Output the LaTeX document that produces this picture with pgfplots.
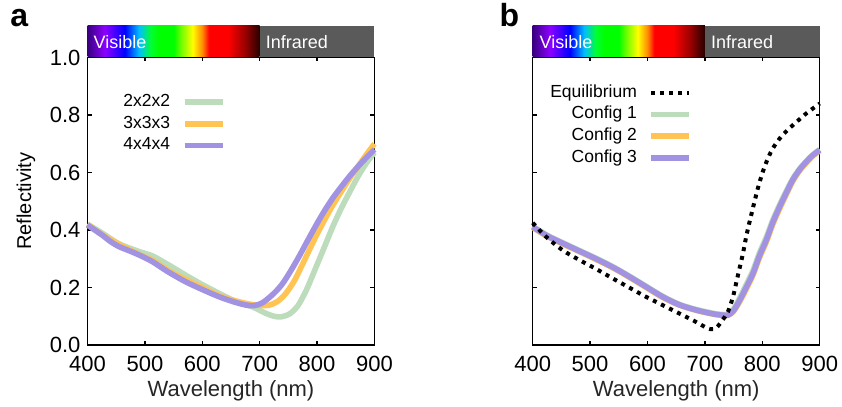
\documentclass[border=0pt]{standalone}
\usepackage{pgfplots}
\pgfplotsset{compat=1.18}
\usepackage{fontspec}
\setmainfont{Liberation Sans}
\definecolor{cg}{RGB}{188,220,188}
\definecolor{co}{RGB}{255,196,84}
\definecolor{cp}{RGB}{162,146,226}
\definecolor{infra}{RGB}{90,90,90}
\pgfdeclarehorizontalshading{visspec}{100bp}{rgb(0bp)=(0.22,0,0.5); rgb(25bp)=(0.22,0,0.5); rgb(30bp)=(0.55,0,1); rgb(35.8bp)=(0,0,1); rgb(40bp)=(0,0.75,1); rgb(43.3bp)=(0,1,0.2); rgb(45.8bp)=(0,1,0); rgb(50bp)=(0,1,0); rgb(52bp)=(0.4,1,0); rgb(55.5bp)=(1,1,0); rgb(58.3bp)=(1,0.55,0); rgb(60.3bp)=(1,0,0); rgb(65.8bp)=(1,0,0); rgb(70.8bp)=(0.6,0,0); rgb(75bp)=(0.15,0,0); rgb(100bp)=(0.15,0,0)}
\pgfplotsset{
  myaxis/.style={
    scale only axis, width=143.5pt, height=143.75pt,
    xmin=400, xmax=900, ymin=0, ymax=1,
    xtick={400,500,600,700,800,900}, ytick={0,0.2,0.4,0.6,0.8,1},
    tick align=inside, major tick length=2pt,
    axis line style={line width=0.75pt},
    every tick/.style={black, line width=0.75pt},
    tick label style={font=\fontsize{11}{13}\selectfont},
    /pgf/number format/assume math mode=true,
    yticklabel style={/pgf/number format/.cd, fixed, fixed zerofill, precision=1},
    xticklabel style={anchor=base, yshift=-13.35pt},
    xlabel style={at={(axis description cs:0.5,0)}, anchor=base, yshift=-26pt, font=\fontsize{11}{13}\selectfont, text=black!85},
    ylabel style={at={(axis description cs:-0.2143,0.5)}, anchor=center, font=\fontsize{10}{12}\selectfont},
    clip=false,
    legend cell align=right,
    legend plot pos=right,
    legend style={draw=none, fill=none, inner sep=0pt, row sep=2.65pt, column sep=5.85pt,
      font=\fontsize{8.75}{10}\selectfont,
      nodes={inner sep=0pt, text height=6.3pt, text depth=1.9pt}},
    legend image code/.code={\draw[#1] (0pt,0pt) -- (19pt,0pt);},
  }
}
\begin{document}
\begin{tikzpicture}
\path[use as bounding box] (0,0) rectangle (421pt,203.5pt);
\node[anchor=base west, inner sep=0pt, font=\fontsize{16}{18}\selectfont\bfseries] at (5pt,190.2pt) {a};
\node[anchor=base west, inner sep=0pt, font=\fontsize{16}{18}\selectfont\bfseries] at (249.6pt,190.2pt) {b};
\begin{axis}[myaxis, at={(43.75pt,31pt)}, anchor=south west,
  xlabel={Wavelength (nm)}, ylabel={Reflectivity},
  legend style={at={(axis description cs:0.1237,0.875)}, anchor=north west}]
\shade[shading=visspec] (axis cs:400,1.003) rectangle (axis cs:700,1.11);
\fill[infra] (axis cs:700,1.003) rectangle (axis cs:900,1.11);
\node[anchor=base west, inner sep=0pt, text=white, font=\fontsize{9}{10}\selectfont] at (axis cs:410,1.032) {Visible};
\node[anchor=base west, inner sep=0pt, text=white, font=\fontsize{9}{10}\selectfont] at (axis cs:710,1.032) {Infrared};
\addplot[cg, line width=2.8pt, smooth] coordinates {(400,0.42) (425,0.39) (455,0.352) (490,0.325) (513,0.31) (540,0.28) (571,0.243) (600,0.21) (629,0.18) (660,0.15) (687,0.133) (711,0.11) (725,0.1) (737,0.098) (752,0.108) (766,0.135) (776,0.17) (784,0.203) (798,0.27) (813,0.342) (827,0.41) (842,0.475) (857,0.533) (871,0.585) (885,0.63) (900,0.67)};
\addlegendentry{2x2x2}
\addplot[co, line width=2.8pt, smooth] coordinates {(400,0.42) (425,0.385) (455,0.35) (490,0.315) (513,0.295) (540,0.26) (571,0.228) (600,0.2) (629,0.172) (655,0.155) (680,0.143) (700,0.138) (715,0.138) (730,0.15) (745,0.178) (760,0.222) (772,0.27) (784,0.32) (798,0.378) (813,0.435) (827,0.485) (842,0.533) (857,0.58) (871,0.62) (885,0.66) (900,0.70)};
\addlegendentry{3x3x3}
\addplot[cp, line width=2.8pt, smooth] coordinates {(400,0.417) (425,0.383) (440,0.36) (455,0.342) (470,0.33) (490,0.313) (513,0.29) (540,0.255) (571,0.22) (600,0.193) (629,0.168) (655,0.15) (676,0.139) (690,0.137) (705,0.147) (725,0.18) (740,0.214) (755,0.261) (770,0.313) (784,0.365) (800,0.423) (813,0.467) (827,0.51) (842,0.55) (857,0.588) (871,0.62) (885,0.65) (900,0.68)};
\addlegendentry{4x4x4}
\end{axis}
\begin{axis}[myaxis, at={(266.35pt,31pt)}, anchor=south west,
  xlabel={Wavelength (nm)}, yticklabels={},
  legend style={at={(axis description cs:0.060,0.9075)}, anchor=north west}]
\shade[shading=visspec] (axis cs:400,1.003) rectangle (axis cs:700,1.11);
\fill[infra] (axis cs:700,1.003) rectangle (axis cs:900,1.11);
\node[anchor=base west, inner sep=0pt, text=white, font=\fontsize{9}{10}\selectfont] at (axis cs:411.5,1.032) {Visible};
\node[anchor=base west, inner sep=0pt, text=white, font=\fontsize{9}{10}\selectfont] at (axis cs:710,1.032) {Infrared};
\addlegendimage{black, line width=2pt, dash pattern=on 2pt off 2.5pt}
\addlegendentry{Equilibrium}
\addplot[cg, line width=2.8pt, smooth] coordinates {(400,0.413) (425,0.382) (452,0.356) (480,0.33) (510,0.302) (540,0.272) (568,0.24) (597,0.205) (626,0.17) (655,0.142) (684,0.124) (710,0.112) (725,0.107) (740,0.107) (750,0.125) (761,0.165) (772,0.21) (784,0.26) (795,0.32) (807,0.375) (818,0.433) (830,0.487) (842,0.536) (853,0.578) (865,0.613) (877,0.64) (888,0.662) (900,0.68)};
\addlegendentry{Config 1}
\addplot[co, line width=2.8pt, smooth] coordinates {(400,0.409) (425,0.378) (452,0.352) (480,0.326) (510,0.298) (540,0.268) (568,0.236) (597,0.201) (626,0.166) (655,0.139) (684,0.121) (710,0.109) (725,0.104) (740,0.103) (750,0.117) (761,0.152) (772,0.194) (784,0.244) (795,0.303) (807,0.358) (818,0.418) (830,0.473) (842,0.524) (853,0.569) (865,0.606) (877,0.634) (888,0.657) (900,0.676)};
\addlegendentry{Config 2}
\addplot[cp, line width=2.8pt, smooth] coordinates {(400,0.411) (425,0.38) (452,0.354) (480,0.328) (510,0.30) (540,0.27) (568,0.238) (597,0.203) (626,0.168) (655,0.14) (684,0.122) (710,0.11) (725,0.105) (740,0.104) (750,0.12) (761,0.157) (772,0.2) (784,0.25) (795,0.31) (807,0.365) (818,0.425) (830,0.48) (842,0.53) (853,0.574) (865,0.61) (877,0.638) (888,0.66) (900,0.678)};
\addlegendentry{Config 3}
\addplot[black, line width=2pt, dash pattern=on 2pt off 2.5pt, smooth, forget plot] coordinates {(400,0.425) (423,0.377) (452,0.33) (481,0.296) (510,0.265) (539,0.232) (568,0.2) (597,0.168) (626,0.139) (655,0.11) (680,0.085) (700,0.063) (710,0.055) (720,0.06) (730,0.085) (740,0.115) (749,0.168) (755,0.22) (761,0.272) (767,0.325) (772,0.377) (778,0.43) (784,0.479) (792,0.543) (801,0.603) (810,0.65) (819,0.686) (833,0.725) (848,0.755) (862,0.78) (877,0.806) (900,0.84)};
\end{axis}
\end{tikzpicture}
\end{document}
